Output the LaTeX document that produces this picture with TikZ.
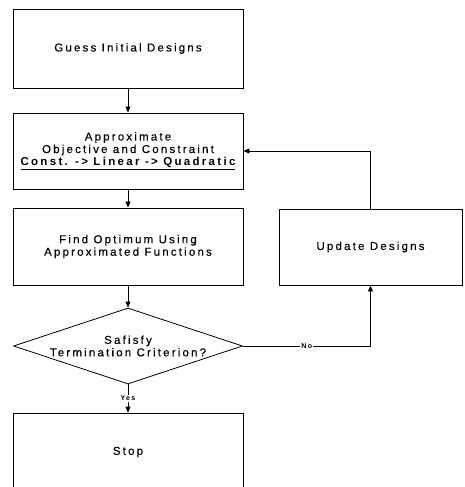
\documentclass[tikz,border=0pt]{standalone}
\usepackage{fontspec}
\setmainfont{Liberation Sans}[LetterSpace=19, FakeBold=0.3, BoldFeatures={FakeBold=0}]
\newfontfamily\boldline{Liberation Sans Bold}[LetterSpace=20]
\usetikzlibrary{arrows.meta,shapes.geometric}
\begin{document}
\begin{tikzpicture}[x=1pt,y=-1pt,
  every node/.style={font=\fontsize{11.5}{12.5}\selectfont, text=black},
  box/.style={draw, line width=0.8pt, rectangle, inner sep=0pt, minimum width=230pt, align=center},
  dec/.style={draw, line width=0.8pt, diamond, aspect=3, inner sep=0pt, minimum width=229pt, minimum height=76pt, align=center},
  conn/.style={line width=0.8pt, -{Triangle[width=5pt,length=6pt]}},
  lbl/.style={fill=white, inner sep=1pt, font=\fontsize{7}{8}\selectfont\bfseries}]
\clip (0,0) rectangle (464,487);
\node[box, minimum height=79pt] (guess) at (128,48.5) {Guess Initial Designs};
\node[box, minimum height=76pt] (approx) at (128,151) {Approximate\\Objective and Constraint\\{\boldline\underline{Const. -> Linear -> Quadratic}}};
\node[box, minimum height=77pt] (find) at (128,246.5) {Find Optimum Using\\Approximated Functions};
\node[box, minimum width=183pt, minimum height=76pt] (update) at (370.5,247) {Update Designs};
\node[dec] (crit) at (128,346) {Safisfy\\Termination Criterion?};
\node[box, minimum height=78pt] (stop) at (128,452) {Stop};
\draw[conn] (guess.south) -- (approx.north);
\draw[conn] (approx.south) -- (find.north);
\draw[conn] (find.south) -- (crit.north);
\draw[conn] (crit.south) -- node[lbl] {Yes} (stop.north);
\draw[conn] (crit.east) -- node[lbl, pos=0.5] {No} (update.south |- crit.east) -- (update.south);
\draw[conn] (update.north) |- (approx.east);
\end{tikzpicture}
\end{document}
